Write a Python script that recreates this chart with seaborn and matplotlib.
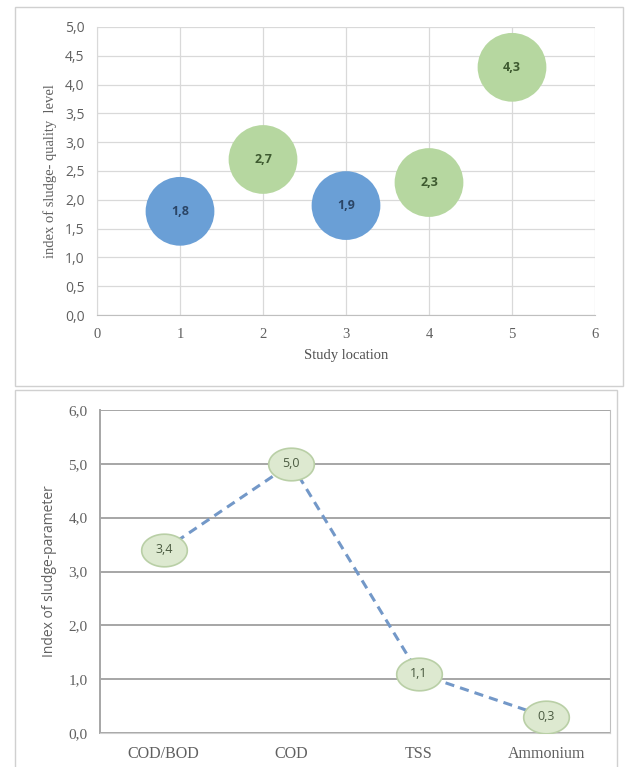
import numpy as np
import pandas as pd
import matplotlib
matplotlib.use("Agg")
import matplotlib.pyplot as plt
from matplotlib.path import Path
from matplotlib.patches import Rectangle
import seaborn as sns

# top chart: bubble per study location
locations = [1, 2, 3, 4, 5]
quality_index = [1.8, 2.7, 1.9, 2.3, 4.3]
bubble_group = ['blue', 'green', 'blue', 'green', 'green']

# bottom chart: index per parameter
parameters = ['COD/BOD', 'COD', 'TSS', 'Ammonium']
param_index = [3.4, 5.0, 1.1, 0.3]

y_ticks_top = [0.0, 0.5, 1.0, 1.5, 2.0, 2.5, 3.0, 3.5, 4.0, 4.5, 5.0]
y_ticks_bottom = [0.0, 1.0, 2.0, 3.0, 4.0, 5.0, 6.0]

def comma(v):
    return f"{v:.1f}".replace('.', ',')

sns.set_style("white")
serif = ['Liberation Serif', 'DejaVu Serif']
sans = ['Open Sans', 'DejaVu Sans']

W, H = 625, 767
fig = plt.figure(figsize=(W / 100, H / 100), dpi=100)

def frac(x0, y0, x1, y1):
    return [x0 / W, 1 - y1 / H, (x1 - x0) / W, (y1 - y0) / H]

# panel frames
fig.patches.append(Rectangle((15 / W, 1 - 386 / H), 608 / W, 379 / H, transform=fig.transFigure,
                             fill=False, edgecolor='#d0d0d0', linewidth=1))
fig.patches.append(Rectangle((15 / W, -0.01), 602 / W, 1 - 390 / H + 0.01, transform=fig.transFigure,
                             fill=False, edgecolor='#d0d0d0', linewidth=1))

# ---------------- top bubble chart ----------------
ax1 = fig.add_axes(frac(97, 27, 595, 315))
df_top = pd.DataFrame({'location': locations, 'index': quality_index, 'group': bubble_group})
palette = {'blue': '#6a9fd6', 'green': '#b6d7a0'}
sns.scatterplot(data=df_top, x='location', y='index', hue='group', palette=palette,
                s=2450, linewidth=0, legend=False, ax=ax1, zorder=3)
label_colors = {'blue': '#2b4566', 'green': '#3e5a30'}
for x, y, g in zip(locations, quality_index, bubble_group):
    ax1.text(x, y, comma(y), ha='center', va='center', fontsize=9, fontweight='bold',
             color=label_colors[g], family=sans, zorder=4)
ax1.set_xlim(0, 6)
ax1.set_ylim(0, 5)
ax1.set_xticks(range(0, 7))
ax1.set_yticks(y_ticks_top)
ax1.set_yticklabels([comma(v) for v in y_ticks_top], family=sans, fontsize=10, color='#606060')
ax1.set_xticklabels([str(v) for v in range(0, 7)], family=serif, fontsize=10.5, color='#606060')
ax1.grid(True, color='#d9d9d9', linewidth=0.9)
ax1.set_axisbelow(True)
for s in ['top', 'right']:
    ax1.spines[s].set_visible(False)
ax1.spines['left'].set_color('#d9d9d9')
ax1.spines['bottom'].set_color('#bfbfbf')
ax1.tick_params(length=0, pad=9)
ax1.set_xlabel('Study location', family=serif, fontsize=10.5, color='#505050', labelpad=6)
ax1.set_ylabel('index of sludge- quality  level', family=serif, fontsize=10.5, color='#606060', labelpad=6)

# ---------------- bottom line chart ----------------
ax2 = fig.add_axes(frac(100, 410, 610, 733))
df_bot = pd.DataFrame({'parameter': parameters, 'index': param_index})
t = np.linspace(0, 2 * np.pi, 60)
ellipse = Path(np.column_stack([1.4 * np.cos(t), np.sin(t)]), closed=True)
sns.lineplot(data=df_bot, x='parameter', y='index', sort=False, color='#7398c8', linewidth=2.2,
             linestyle=(0, (3, 2)), ax=ax2, zorder=2)
sns.scatterplot(data=df_bot, x='parameter', y='index', marker=ellipse, s=1080, color='#dde9d0',
                edgecolor='#b9cfa6', linewidth=1.2, ax=ax2, zorder=3)
for i, v in enumerate(param_index):
    ax2.text(i, v, comma(v), ha='center', va='center', fontsize=9, color='#4a5a40',
             family=sans, zorder=4)
ax2.set_xlim(-0.5, 3.5)
ax2.set_ylim(0, 6)
ax2.set_yticks(y_ticks_bottom)
ax2.set_yticklabels([comma(v) for v in y_ticks_bottom], family=serif, fontsize=11, color='#606060')
ax2.set_xticks(range(len(parameters)))
ax2.set_xticklabels(parameters, family=serif, fontsize=11.5, color='#606060')
ax2.grid(True, axis='y', color='#a6a6a6', linewidth=1.4)
ax2.set_axisbelow(True)
ax2.spines['top'].set_visible(False)
ax2.spines['left'].set_color('#a6a6a6')
ax2.spines['right'].set_color('#bfbfbf')
ax2.spines['bottom'].set_color('#d0d0d0')
ax2.spines['left'].set_linewidth(1.4)
ax2.tick_params(length=0, pad=9)
ax2.set_xlabel('')
ax2.set_ylabel('Index of sludge-parameter', family=sans, fontsize=10, color='#606060', labelpad=8)

fig.savefig('out.png', dpi=100)
